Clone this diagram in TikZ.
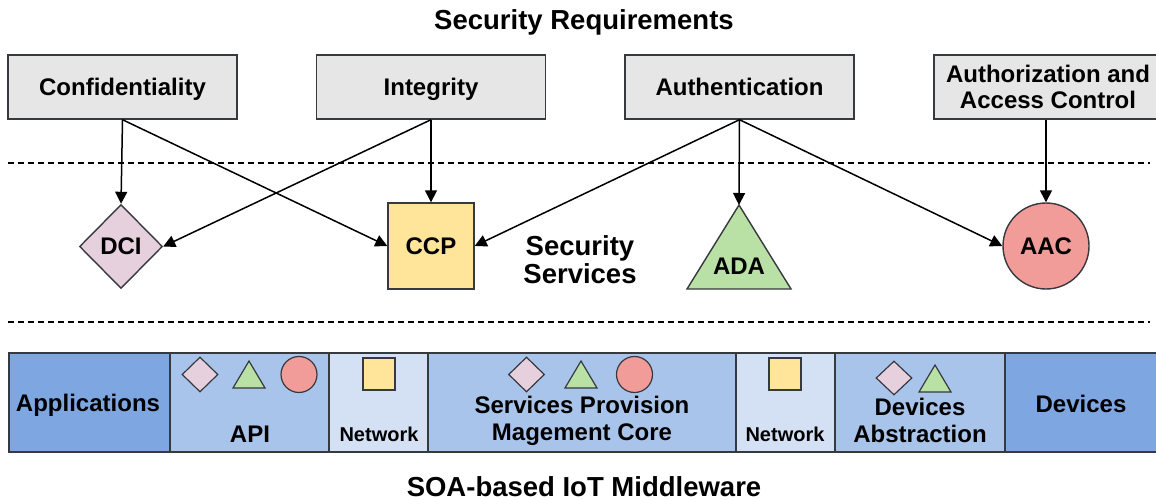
\documentclass[tikz,border=0pt]{standalone}
\usepackage{fontspec}
\setmainfont{Liberation Sans}
\usetikzlibrary{shapes.geometric,arrows.meta}

\definecolor{edgecol}{HTML}{36393D}
\definecolor{reqfill}{HTML}{E6E6E6}
\definecolor{dcifill}{HTML}{E6D0DE}
\definecolor{ccpfill}{HTML}{FFE599}
\definecolor{adafill}{HTML}{B9E0A5}
\definecolor{aacfill}{HTML}{F19C99}
\definecolor{bardark}{HTML}{7EA6E0}
\definecolor{barmid}{HTML}{A9C4EB}
\definecolor{barlight}{HTML}{D4E1F5}

\newcommand\lblfont{\fontsize{24}{27}\selectfont\bfseries}
\newcommand\ttlfont{\fontsize{27.5}{28}\selectfont\bfseries}
\newcommand\netfont{\fontsize{20}{24}\selectfont\bfseries}

\begin{document}
\begin{tikzpicture}[x=1pt,y=-1pt,
  reqbox/.style={draw=edgecol, fill=reqfill, line width=1.4pt, minimum width=229pt,
    minimum height=64pt, inner sep=0pt, font=\lblfont, align=center},
  svc/.style={draw=edgecol, line width=1.4pt, inner sep=0pt, font=\lblfont},
  link/.style={draw=black, line width=1.5pt, -{Triangle[length=12pt,width=12pt]}},
  sepline/.style={draw=black, line width=1.2pt, dash pattern=on 6pt off 4pt},
  cell/.style={draw=edgecol, line width=1.4pt, minimum height=99pt, inner sep=0pt},
  celltext/.style={font=\lblfont, align=center, inner sep=0pt},
  mini/.style={draw=edgecol, line width=1.2pt, inner sep=0pt},
]
\useasboundingbox (0,0) rectangle (1156,500);

% titles
\node[font=\ttlfont, inner sep=0pt] (ttop) at (584,22) {Security Requirements};
\node[font=\ttlfont, inner sep=0pt] (tbot) at (584,487) {SOA-based IoT Middleware};

% security requirements
\node[reqbox, text depth=0pt] (conf) at (122.5,87) {Confidentiality};
\node[reqbox, text depth=0pt] (integ) at (431,87) {Integrity};
\node[reqbox] (auth) at (739.5,87) {Authentication};
\node[reqbox, minimum width=228pt] (authz) at (1048,87) {Authorization and\\[-1pt]Access Control};

% layer separators
\draw[sepline] (8,163) -- (1150,163);
\draw[sepline] (8,322) -- (1150,322);

% security services
\node[svc, diamond, fill=dcifill, minimum width=83pt, minimum height=84pt] (dci) at (121,246.5) {DCI};
\node[svc, rectangle, fill=ccpfill, minimum width=86pt, minimum height=86pt] (ccp) at (431,246) {CCP};
\draw[svc, fill=adafill] (739,205) -- (791,289) -- (687,289) -- cycle;
\coordinate (ada) at (739,205);
\node[font=\lblfont, inner sep=0pt] (adatxt) at (739,266) {ADA};
\node[svc, circle, fill=aacfill, minimum size=86pt] (aac) at (1046,246) {AAC};
\node[font=\ttlfont, align=center, inner sep=0pt] (svctxt) at (580,259.5) {Security\\Services};

% requirement -> service links
\draw[link] (conf.south) -- (dci.north);
\draw[link] (conf.south) -- (ccp.west);
\draw[link] (integ.south) -- (dci.east);
\draw[link] (integ.south) -- (ccp.north);
\draw[link] (auth.south) -- (ccp.east);
\draw[link] (auth.south) -- (ada);
\draw[link] (auth.south) -- (aac.west);
\draw[link] (authz.south -| aac.north) -- (aac.north);

% middleware layers
\node[cell, fill=bardark, minimum width=161pt] (apps) at (89.5,402.5) {};
\node[cell, fill=barmid, minimum width=159pt] (api) at (249.5,402.5) {};
\node[cell, fill=barlight, minimum width=99pt] (net1) at (378.5,402.5) {};
\node[cell, fill=barmid, minimum width=308pt] (core) at (582,402.5) {};
\node[cell, fill=barlight, minimum width=99pt] (net2) at (785.5,402.5) {};
\node[cell, fill=barmid, minimum width=170pt] (dabs) at (920,402.5) {};
\node[cell, fill=bardark, minimum width=153pt] (dev) at (1081.5,402.5) {};

\node[celltext] (appstxt) at (88,405) {Applications};
\node[celltext] (apitxt) at (250,434) {API};
\node[celltext, font=\netfont] (net1txt) at (379,434) {Network};
\node[celltext] (coretxt) at (582,421) {Services Provision\\Magement Core};
\node[celltext, font=\netfont] (net2txt) at (785,434) {Network};
\node[celltext] (dabstxt) at (920,420) {Devices\\Abstraction};
\node[celltext] (devtxt) at (1081,404) {Devices};

% service icons inside layers
\node[mini, diamond, fill=dcifill, minimum width=36pt, minimum height=35pt] (apid) at (200,374.5) {};
\draw[mini, fill=adafill] (249,361) -- (265,388) -- (233,388) -- cycle;
\node[mini, circle, fill=aacfill, minimum size=36pt] (apic) at (299,374.5) {};
\node[mini, rectangle, fill=ccpfill, minimum size=32pt] (net1s) at (379,374) {};
\node[mini, diamond, fill=dcifill, minimum width=36pt, minimum height=35pt] (cored) at (526.5,374.5) {};
\draw[mini, fill=adafill] (581,361) -- (597,388) -- (565,388) -- cycle;
\node[mini, circle, fill=aacfill, minimum size=36pt] (corec) at (634.5,374.5) {};
\node[mini, rectangle, fill=ccpfill, minimum size=32pt] (net2s) at (785,374) {};
\node[mini, diamond, fill=dcifill, minimum width=36pt, minimum height=34pt] (dabsd) at (894,378) {};
\draw[mini, fill=adafill] (935,365) -- (951,392) -- (919,392) -- cycle;
\end{tikzpicture}
\end{document}
